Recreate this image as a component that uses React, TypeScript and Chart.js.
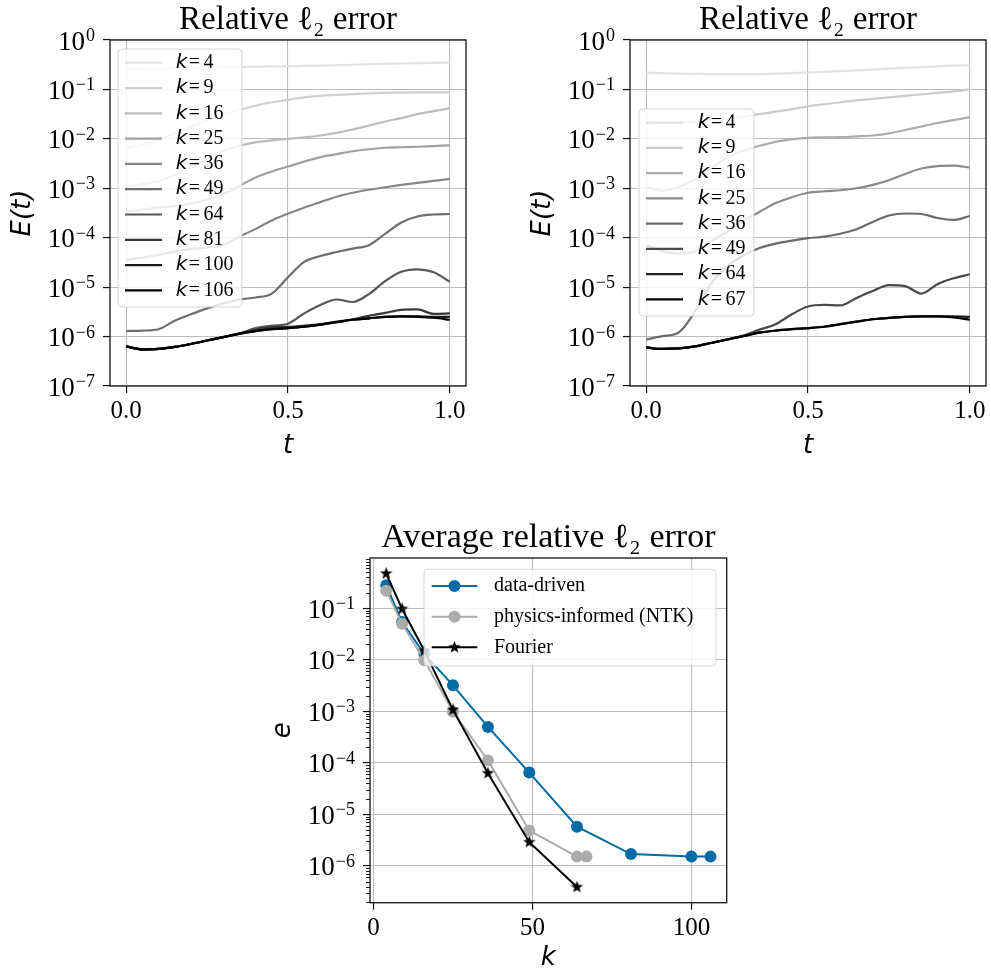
import React, { useEffect, useRef } from "react";
import { Chart, registerables } from "chart.js";

Chart.register(...registerables);

// ---------------- DATA ----------------
const tValues = [0, 0.05, 0.1, 0.15, 0.2, 0.25, 0.3, 0.35, 0.4, 0.45, 0.5, 0.55, 0.6, 0.65, 0.7, 0.75, 0.8, 0.85, 0.9, 0.95, 1];

// Left panel, k values
const leftK = [4, 9, 16, 25, 36, 49, 64, 81, 100, 106];
const left_k4 = [0.257, 0.26, 0.263, 0.269, 0.272, 0.275, 0.282, 0.285, 0.288, 0.292, 0.295, 0.299, 0.302, 0.309, 0.316, 0.324, 0.331, 0.335, 0.339, 0.343, 0.347];
const left_k9 = [6.46e-3, 7.59e-3, 9.55e-3, 1.29e-2, 1.74e-2, 2.4e-2, 3.09e-2, 3.89e-2, 4.68e-2, 5.5e-2, 6.17e-2, 6.92e-2, 7.41e-2, 7.76e-2, 8.04e-2, 8.32e-2, 8.51e-2, 8.61e-2, 8.71e-2, 8.71e-2, 8.71e-2];
const left_k16 = [1.07e-3, 1.2e-3, 1.41e-3, 1.86e-3, 2.63e-3, 3.98e-3, 5.75e-3, 7.24e-3, 8.51e-3, 9.33e-3, 1.0e-2, 1.07e-2, 1.17e-2, 1.32e-2, 1.55e-2, 1.86e-2, 2.24e-2, 2.63e-2, 3.16e-2, 3.63e-2, 4.17e-2];
const left_k25 = [3.39e-4, 3.72e-4, 4.07e-4, 4.37e-4, 4.9e-4, 5.89e-4, 7.59e-4, 1.12e-3, 1.66e-3, 2.19e-3, 2.75e-3, 3.47e-3, 4.27e-3, 4.9e-3, 5.62e-3, 6.17e-3, 6.61e-3, 6.76e-3, 6.92e-3, 7.16e-3, 7.41e-3];
const left_k36 = [3.55e-5, 3.98e-5, 4.47e-5, 5.25e-5, 5.89e-5, 6.31e-5, 7.24e-5, 1.05e-4, 1.51e-4, 2.24e-4, 3.09e-4, 4.07e-4, 5.25e-4, 6.76e-4, 8.13e-4, 9.33e-4, 1.05e-3, 1.17e-3, 1.29e-3, 1.41e-3, 1.55e-3];
const left_k49 = [1.29e-6, 1.32e-6, 1.41e-6, 2.09e-6, 2.82e-6, 3.72e-6, 4.68e-6, 5.62e-6, 6.17e-6, 7.41e-6, 1.58e-5, 3.24e-5, 4.27e-5, 5.13e-5, 6.03e-5, 7.08e-5, 1.2e-4, 2.04e-4, 2.69e-4, 2.95e-4, 3.02e-4];
const left_k64 = [6.31e-7, 5.5e-7, 5.62e-7, 6.17e-7, 7.08e-7, 8.32e-7, 9.77e-7, 1.15e-6, 1.48e-6, 1.66e-6, 1.82e-6, 2.95e-6, 4.37e-6, 5.62e-6, 5.01e-6, 7.24e-6, 1.32e-5, 2.04e-5, 2.29e-5, 2.0e-5, 1.29e-5];
const left_k81 = [6.31e-7, 5.5e-7, 5.62e-7, 6.17e-7, 7.08e-7, 8.32e-7, 9.77e-7, 1.15e-6, 1.38e-6, 1.55e-6, 1.58e-6, 1.66e-6, 1.78e-6, 2.0e-6, 2.24e-6, 2.63e-6, 3.02e-6, 3.47e-6, 3.55e-6, 2.88e-6, 2.95e-6];
const left_k100 = [6.31e-7, 5.5e-7, 5.62e-7, 6.17e-7, 7.08e-7, 8.32e-7, 9.77e-7, 1.15e-6, 1.29e-6, 1.41e-6, 1.48e-6, 1.58e-6, 1.74e-6, 1.95e-6, 2.19e-6, 2.34e-6, 2.51e-6, 2.57e-6, 2.57e-6, 2.51e-6, 2.51e-6];
const left_k106 = [6.31e-7, 5.5e-7, 5.62e-7, 6.17e-7, 7.08e-7, 8.32e-7, 9.77e-7, 1.15e-6, 1.29e-6, 1.41e-6, 1.48e-6, 1.58e-6, 1.74e-6, 1.95e-6, 2.19e-6, 2.34e-6, 2.51e-6, 2.57e-6, 2.51e-6, 2.4e-6, 2.19e-6];
const leftSeries = [left_k4, left_k9, left_k16, left_k25, left_k36, left_k49, left_k64, left_k81, left_k100, left_k106];

// Right panel, k values
const rightK = [4, 9, 16, 25, 36, 49, 64, 67];
const right_k4 = [0.219, 0.214, 0.209, 0.207, 0.204, 0.204, 0.204, 0.204, 0.209, 0.214, 0.219, 0.226, 0.234, 0.243, 0.251, 0.263, 0.272, 0.282, 0.292, 0.302, 0.309];
const right_k9 = [2.04e-2, 2.09e-2, 2.14e-2, 2.24e-2, 2.4e-2, 2.57e-2, 2.82e-2, 3.16e-2, 3.55e-2, 3.98e-2, 4.57e-2, 5.01e-2, 5.5e-2, 6.03e-2, 6.46e-2, 6.92e-2, 7.41e-2, 7.94e-2, 8.51e-2, 9.12e-2, 1.0e-1];
const right_k16 = [1.07e-3, 8.91e-4, 1.07e-3, 1.51e-3, 2.51e-3, 4.17e-3, 5.75e-3, 7.24e-3, 8.71e-3, 9.77e-3, 1.05e-2, 1.07e-2, 1.08e-2, 1.12e-2, 1.17e-2, 1.29e-2, 1.51e-2, 1.78e-2, 2.09e-2, 2.4e-2, 2.75e-2];
const right_k25 = [7.08e-5, 5.37e-5, 4.79e-5, 5.25e-5, 8.32e-5, 1.32e-4, 2.19e-4, 3.31e-4, 5.01e-4, 6.61e-4, 8.13e-4, 8.71e-4, 9.12e-4, 1.0e-3, 1.17e-3, 1.45e-3, 1.95e-3, 2.51e-3, 2.82e-3, 2.88e-3, 2.63e-3];
const right_k36 = [8.71e-7, 1.02e-6, 1.2e-6, 3.16e-6, 1.17e-5, 2.63e-5, 4.37e-5, 6.17e-5, 7.59e-5, 8.71e-5, 9.77e-5, 1.05e-4, 1.2e-4, 1.48e-4, 2.09e-4, 2.82e-4, 3.09e-4, 3.02e-4, 2.51e-4, 2.29e-4, 2.75e-4];
const right_k49 = [6.03e-7, 5.62e-7, 5.75e-7, 6.31e-7, 7.41e-7, 8.71e-7, 1.05e-6, 1.38e-6, 1.78e-6, 2.82e-6, 4.07e-6, 4.37e-6, 4.27e-6, 6.03e-6, 8.32e-6, 1.1e-5, 1.05e-5, 7.41e-6, 1.15e-5, 1.51e-5, 1.82e-5];
const right_k64 = [6.03e-7, 5.62e-7, 5.75e-7, 6.31e-7, 7.41e-7, 8.71e-7, 1.02e-6, 1.2e-6, 1.32e-6, 1.41e-6, 1.48e-6, 1.58e-6, 1.78e-6, 2.0e-6, 2.24e-6, 2.4e-6, 2.51e-6, 2.57e-6, 2.57e-6, 2.57e-6, 2.51e-6];
const right_k67 = [6.03e-7, 5.62e-7, 5.75e-7, 6.31e-7, 7.41e-7, 8.71e-7, 1.02e-6, 1.2e-6, 1.32e-6, 1.41e-6, 1.48e-6, 1.58e-6, 1.78e-6, 2.0e-6, 2.24e-6, 2.4e-6, 2.51e-6, 2.57e-6, 2.57e-6, 2.45e-6, 2.19e-6];
const rightSeries = [right_k4, right_k9, right_k16, right_k25, right_k36, right_k49, right_k64, right_k67];

// Bottom panel: average relative error vs k
const kDataDriven = [4, 9, 16, 25, 36, 49, 64, 81, 100, 106];
const eDataDriven = [0.28, 0.054, 0.013, 3.2e-3, 5.0e-4, 6.5e-5, 5.8e-6, 1.7e-6, 1.52e-6, 1.52e-6];
const kPhysics = [4, 9, 16, 25, 36, 49, 64, 67];
const ePhysics = [0.22, 0.05, 9.8e-3, 9.8e-4, 1.12e-4, 4.9e-6, 1.52e-6, 1.52e-6];
const kFourier = [4, 9, 16, 25, 36, 49, 64];
const eFourier = [0.47, 0.097, 0.015, 1.07e-3, 6.3e-5, 2.9e-6, 3.9e-7];

const topYTicks = [1e-7, 1e-6, 1e-5, 1e-4, 1e-3, 1e-2, 1e-1, 1];
const bottomYTicks = [1e-6, 1e-5, 1e-4, 1e-3, 1e-2, 1e-1];
const topXTicks = [0, 0.5, 1];
const bottomXTicks = [0, 50, 100];

// ---------------- STYLE ----------------
const leftGreys = ["#e2e2e2", "#d0d0d0", "#bcbcbc", "#a0a0a0", "#868686", "#6e6e6e", "#565656", "#383838", "#1a1a1a", "#000000"];
const rightGreys = ["#e2e2e2", "#cbcbcb", "#acacac", "#8a8a8a", "#6a6a6a", "#4a4a4a", "#222222", "#000000"];
const SERIF = "'Liberation Serif', 'Times New Roman', serif";
const SANS = "'DejaVu Sans', sans-serif";

function expOf(v: number) {
  return Math.round(Math.log10(v));
}

function makeStar(size: number, color: string) {
  const c = document.createElement("canvas");
  c.width = size;
  c.height = size;
  const g = c.getContext("2d")!;
  const r = size / 2;
  const ri = r * 0.42;
  g.beginPath();
  for (let i = 0; i < 10; i++) {
    const a = -Math.PI / 2 + (i * Math.PI) / 5;
    const rr = i % 2 ? ri : r;
    g.lineTo(r + rr * Math.cos(a), r + rr * Math.sin(a));
  }
  g.closePath();
  g.fillStyle = color;
  g.fill();
  return c;
}

// Frame (spines), optional minor log ticks, and 10^n tick labels with real superscripts
const framePlugin = {
  id: "mplFrame",
  afterDatasetsDraw(chart: any, _a: any, opts: any) {
    const { ctx, chartArea: ca } = chart;
    const ys = chart.scales.y;
    ctx.save();
    if (opts && opts.minor) {
      ctx.strokeStyle = "#000";
      ctx.lineWidth = 0.9;
      for (let n = -9; n <= 1; n++) {
        for (let m = 2; m <= 9; m++) {
          const v = m * Math.pow(10, n);
          if (v < ys.min || v > ys.max) continue;
          const py = Math.round(ys.getPixelForValue(v)) + 0.5;
          ctx.beginPath();
          ctx.moveTo(ca.left - 4, py);
          ctx.lineTo(ca.left, py);
          ctx.stroke();
        }
      }
    }
    ctx.strokeStyle = "#111";
    ctx.lineWidth = 1.3;
    ctx.strokeRect(ca.left, ca.top, ca.right - ca.left, ca.bottom - ca.top);

    // y tick labels: "10" + superscript exponent
    ctx.fillStyle = "#000";
    ctx.textAlign = "left";
    ctx.textBaseline = "alphabetic";
    const right = ca.left - 15;
    ys.ticks.forEach((t: any) => {
      const py = ys.getPixelForValue(t.value);
      const e = expOf(t.value);
      const expText = e < 0 ? "\u2212" + String(-e) : String(e);
      ctx.font = `27px ${SERIF}`;
      const wBase = ctx.measureText("10").width;
      ctx.font = `18px ${SERIF}`;
      const wExp = ctx.measureText(expText).width;
      const x0 = right - wBase - wExp - 1;
      const base = py + 9.5;
      ctx.font = `27px ${SERIF}`;
      ctx.fillText("10", x0, base);
      ctx.font = `18px ${SERIF}`;
      ctx.fillText(expText, x0 + wBase + 1, base - 8.5);
    });
    ctx.restore();
  },
};

// Matplotlib-like legend inside the axes
const legendPlugin = {
  id: "mplLegend",
  afterDraw(chart: any, _a: any, o: any) {
    const { ctx, chartArea } = chart;
    const x0 = chartArea.left + o.dx;
    const y0 = chartArea.top + o.dy;
    ctx.save();
    ctx.beginPath();
    ctx.roundRect(x0, y0, o.w, o.h, 4);
    ctx.fillStyle = "rgba(255,255,255,0.8)";
    ctx.fill();
    ctx.lineWidth = 1;
    ctx.strokeStyle = "rgba(204,204,204,0.8)";
    ctx.stroke();
    chart.data.datasets.forEach((ds: any, i: number) => {
      const y = y0 + o.firstRow + i * o.rowH;
      ctx.beginPath();
      ctx.moveTo(x0 + o.lx0, y);
      ctx.lineTo(x0 + o.lx1, y);
      ctx.strokeStyle = ds.borderColor;
      ctx.lineWidth = ds.borderWidth;
      ctx.lineCap = "butt";
      ctx.stroke();
      const mx = x0 + (o.lx0 + o.lx1) / 2;
      if (ds.pointStyle && typeof ds.pointStyle !== "string") {
        ctx.drawImage(ds.pointStyle, mx - ds.pointStyle.width / 2, y - ds.pointStyle.height / 2);
      } else if (ds.pointRadius > 0) {
        ctx.beginPath();
        ctx.arc(mx, y, ds.pointRadius, 0, Math.PI * 2);
        ctx.fillStyle = ds.pointBackgroundColor;
        ctx.fill();
      }
      ctx.fillStyle = "#000";
      ctx.textBaseline = "middle";
      ctx.textAlign = "left";
      let tx = x0 + o.tx;
      if (o.mathK) {
        const num = String(ds.label).replace(/^k\s*=\s*/, "");
        ctx.font = `italic ${o.size}px ${SANS}`;
        ctx.fillText("k", tx, y);
        tx += ctx.measureText("k").width + 1.5;
        ctx.font = `${o.size}px ${SERIF}`;
        ctx.fillText("=", tx, y);
        tx += ctx.measureText("=").width + 3.5;
        ctx.fillText(num, tx, y);
      } else {
        ctx.font = `${o.size}px ${SERIF}`;
        ctx.fillText(ds.label, tx, y);
      }
    });
    ctx.restore();
  },
};

function axisCommon(title: string, titlePad: any) {
  return {
    grid: { color: "#bdbdbd", lineWidth: 1.1, tickColor: "#111", tickWidth: 1.2, tickLength: 7, drawTicks: true },
    border: { display: false },
    title: { display: true, text: title, color: "#000", font: { family: SANS, style: "italic", size: 26, lineHeight: 1.2 }, padding: titlePad },
  };
}

function topConfig(series: number[][], ks: number[], colors: string[], legend: any, rightPad: number) {
  const n = series.length;
  return {
    type: "line",
    data: {
      datasets: series.map((vals, i) => ({
        label: `k = ${ks[i]}`,
        data: tValues.map((t, j) => ({ x: t, y: vals[j] })),
        borderColor: colors[i],
        backgroundColor: colors[i],
        borderWidth: 2.2,
        pointRadius: 0,
        cubicInterpolationMode: "monotone",
        fill: false,
        order: n - i,
      })),
    },
    options: {
      responsive: false,
      animation: false,
      devicePixelRatio: 1,
      events: [],
      layout: { padding: { left: 0, right: rightPad, top: 0, bottom: 0 }, autoPadding: false },
      plugins: {
        legend: { display: false },
        tooltip: { enabled: false },
        title: {
          display: true,
          text: "Relative ℓ₂ error",
          fullSize: false,
          color: "#000",
          font: { family: SERIF, size: 33, weight: "normal", lineHeight: 40 / 33 },
          padding: 0,
        },
        mplFrame: { minor: false },
        mplLegend: legend,
      },
      scales: {
        x: {
          type: "linear",
          min: -0.05,
          max: 1.05,
          afterBuildTicks: (s: any) => {
            s.ticks = topXTicks.map((v) => ({ value: v }));
          },
          afterFit: (s: any) => {
            s.height = 84;
          },
          ticks: { callback: (v: any) => Number(v).toFixed(1), color: "#000", font: { family: SERIF, size: 25 }, padding: 3, maxRotation: 0, autoSkip: false },
          ...axisCommon("t", { top: 0, bottom: 8.4 }),
        },
        y: {
          type: "logarithmic",
          min: 1e-7,
          max: 1,
          afterBuildTicks: (s: any) => {
            s.ticks = topYTicks.map((v) => ({ value: v }));
          },
          afterFit: (s: any) => {
            s.width = 110;
          },
          ticks: { display: false, autoSkip: false },
          ...axisCommon("E(t)", { top: 8, bottom: 0 }),
        },
      },
    },
    plugins: [framePlugin, legendPlugin],
  };
}

function bottomConfig() {
  const star = makeStar(13, "#000");
  const mk = (ks: number[], es: number[]) => ks.map((k, i) => ({ x: k, y: es[i] }));
  return {
    type: "line",
    data: {
      datasets: [
        { label: "data-driven", data: mk(kDataDriven, eDataDriven), borderColor: "#006BA4", backgroundColor: "#006BA4", pointBackgroundColor: "#006BA4", pointBorderColor: "#006BA4", borderWidth: 2, pointRadius: 6, pointBorderWidth: 0, pointStyle: "circle", order: 3 },
        { label: "physics-informed (NTK)", data: mk(kPhysics, ePhysics), borderColor: "#ABABAB", backgroundColor: "#ABABAB", pointBackgroundColor: "#ABABAB", pointBorderColor: "#ABABAB", borderWidth: 2, pointRadius: 6, pointBorderWidth: 0, pointStyle: "circle", order: 2 },
        { label: "Fourier", data: mk(kFourier, eFourier), borderColor: "#000000", backgroundColor: "#000000", pointBackgroundColor: "#000000", pointBorderColor: "#000000", borderWidth: 2, pointRadius: 6, pointBorderWidth: 0, pointStyle: star, order: 1 },
      ],
    },
    options: {
      responsive: false,
      animation: false,
      devicePixelRatio: 1,
      events: [],
      layout: { padding: { left: 0, right: 13.3, top: 8, bottom: 0 }, autoPadding: false },
      plugins: {
        legend: { display: false },
        tooltip: { enabled: false },
        title: {
          display: true,
          text: "Average relative ℓ₂ error",
          fullSize: false,
          color: "#000",
          font: { family: SERIF, size: 34, weight: "normal", lineHeight: 40 / 34 },
          padding: 0,
        },
        mplFrame: { minor: true },
        mplLegend: { dx: 54, dy: 11.3, w: 292, h: 96.7, firstRow: 16.7, rowH: 30.65, lx0: 7.7, lx1: 53.3, tx: 70, size: 20, mathK: false },
      },
      scales: {
        x: {
          type: "linear",
          min: -1.1,
          max: 111.1,
          afterBuildTicks: (s: any) => {
            s.ticks = bottomXTicks.map((v) => ({ value: v }));
          },
          afterFit: (s: any) => {
            s.height = 72.3;
          },
          ticks: { callback: (v: any) => String(v), color: "#000", font: { family: SERIF, size: 25 }, padding: 4, maxRotation: 0, autoSkip: false },
          ...axisCommon("k", { top: 0, bottom: 1.4 }),
        },
        y: {
          type: "logarithmic",
          min: 1.94e-7,
          max: 0.946,
          afterBuildTicks: (s: any) => {
            s.ticks = bottomYTicks.map((v) => ({ value: v }));
          },
          afterFit: (s: any) => {
            s.width = 110;
          },
          ticks: { display: false, autoSkip: false },
          ...axisCommon("e", { top: 8, bottom: 0 }),
        },
      },
    },
    plugins: [framePlugin, legendPlugin],
  };
}

export default function App() {
  const r1 = useRef<HTMLCanvasElement>(null);
  const r2 = useRef<HTMLCanvasElement>(null);
  const r3 = useRef<HTMLCanvasElement>(null);

  useEffect(() => {
    const c1 = new Chart(
      r1.current as any,
      topConfig(leftSeries, leftK, leftGreys, { dx: 8, dy: 9, w: 124, h: 258, firstRow: 13.7, rowH: 25.3, lx0: 7, lx1: 44, tx: 57.7, size: 20, mathK: true }, 29) as any
    );
    const c2 = new Chart(
      r2.current as any,
      topConfig(rightSeries, rightK, rightGreys, { dx: 9, dy: 69, w: 115, h: 207, firstRow: 13.7, rowH: 25.23, lx0: 7, lx1: 44, tx: 58.7, size: 20, mathK: true }, 5) as any
    );
    const c3 = new Chart(r3.current as any, bottomConfig() as any);
    return () => {
      c1.destroy();
      c2.destroy();
      c3.destroy();
    };
  }, []);

  return (
    <div style={{ position: "absolute", left: 0, top: 0, width: 991, height: 975, background: "#ffffff", overflow: "hidden" }}>
      <canvas ref={r1} width={495} height={470} style={{ position: "absolute", left: 0, top: 0, width: 495, height: 470 }} />
      <canvas ref={r2} width={471} height={470} style={{ position: "absolute", left: 520, top: 0, width: 471, height: 470 }} />
      <canvas ref={r3} width={480} height={465} style={{ position: "absolute", left: 260, top: 510, width: 480, height: 465 }} />
    </div>
  );
}
